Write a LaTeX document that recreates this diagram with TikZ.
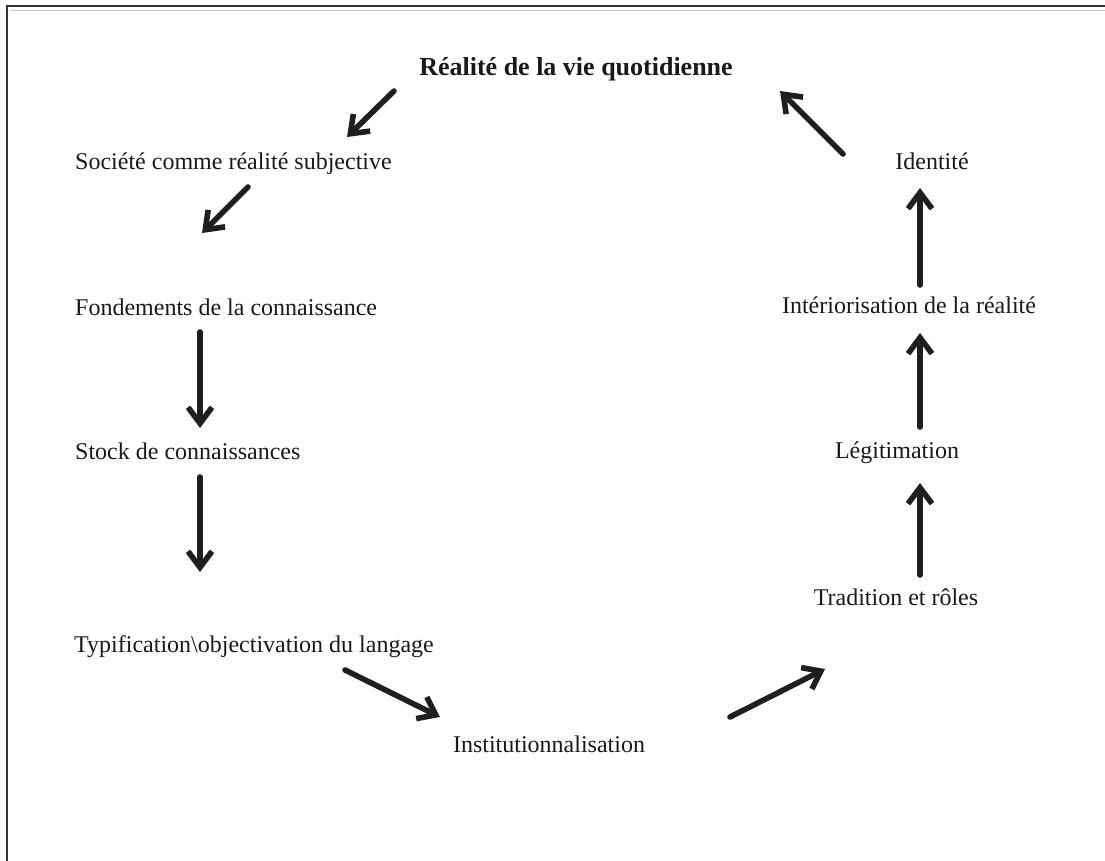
\documentclass[tikz,border=0pt]{standalone}
\usepackage{fontspec}
\setmainfont{Liberation Serif}
\usetikzlibrary{arrows.meta}
\begin{document}
\begin{tikzpicture}[x=1pt,y=-1pt,
  lbl/.style={font=\fontsize{24}{28}\selectfont, inner sep=0pt, text=black!90},
  flow/.style={line width=5.6pt, color=black!88, line cap=round,
    -{Straight Barb[length=16pt,width=24pt,line width=5.6pt]}}]
\useasboundingbox (0,0) rectangle (1105,861);
\fill[white] (0,0) rectangle (1105,861);
% frame
\draw[line width=1.8pt, black!80] (7,861) -- (7,6) -- (1105,6);
\draw[line width=1pt, black!22] (10,10.5) -- (1105,10.5);
% labels
\node[lbl, anchor=base, font=\fontsize{26}{30}\selectfont\bfseries] (real) at (576,76) {Réalité de la vie quotidienne};
\node[lbl, anchor=base west] (soc) at (75,170) {Société comme réalité subjective};
\node[lbl, anchor=base west] (fond) at (75,315) {Fondements de la connaissance};
\node[lbl, anchor=base west] (stock) at (75,459) {Stock de connaissances};
\node[lbl, anchor=base west] (typ) at (74,652) {Typification\textbackslash objectivation du langage};
\node[lbl, anchor=base] (inst) at (549,752) {Institutionnalisation};
\node[lbl, anchor=base] (trad) at (896,605) {Tradition et rôles};
\node[lbl, anchor=base] (leg) at (897,458) {Légitimation};
\node[lbl, anchor=base] (inter) at (909,313) {Intériorisation de la réalité};
\node[lbl, anchor=base] (ident) at (932,170) {Identité};
% arrow end points
\coordinate (a1s) at (394,91);  \coordinate (a1e) at (347,137);
\coordinate (a2s) at (248,187); \coordinate (a2e) at (202,233);
\coordinate (a3s) at (200,332); \coordinate (a3e) at (200,428);
\coordinate (a4s) at (200,477); \coordinate (a4e) at (200,572);
\coordinate (a5s) at (345,670); \coordinate (a5e) at (440,717);
\coordinate (a6s) at (730,717); \coordinate (a6e) at (825,669);
\coordinate (a7s) at (920,575); \coordinate (a7e) at (920,483);
\coordinate (a8s) at (920,427); \coordinate (a8e) at (920,333);
\coordinate (a9s) at (920,285); \coordinate (a9e) at (920,188);
\coordinate (a10s) at (843,154); \coordinate (a10e) at (780,91);
\foreach \i in {1,...,10} {\draw[flow] (a\i s) -- (a\i e);}
\end{tikzpicture}
\end{document}
